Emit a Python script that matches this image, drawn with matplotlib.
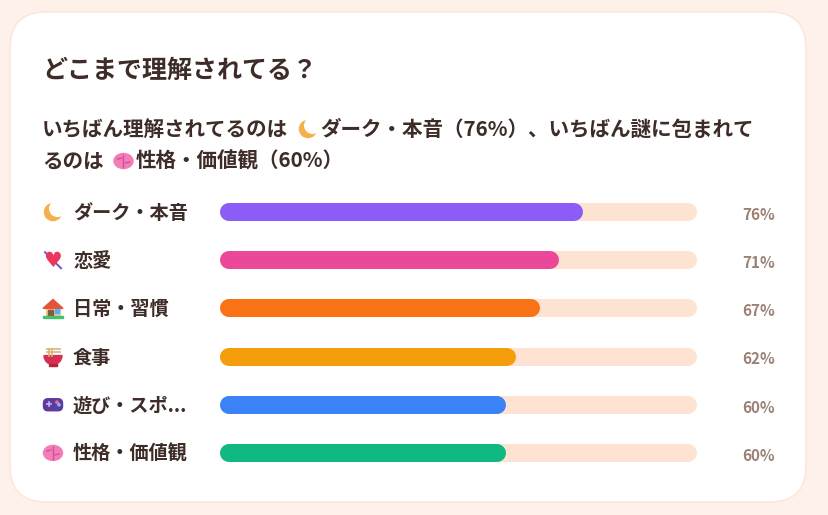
import matplotlib
matplotlib.use("Agg")
import matplotlib.pyplot as plt
from matplotlib import transforms
from matplotlib.patches import FancyBboxPatch, Circle, Polygon, Rectangle, Wedge, Ellipse

plt.rcParams['font.family'] = ['Noto Sans CJK JP', 'DejaVu Sans']

# --------------------------------------------
# DATA
# --------------------------------------------
title = "どこまで理解されてる？"
categories = ["ダーク・本音", "恋愛", "日常・習慣", "食事", "遊び・スポ...", "性格・価値観"]
percents = [76, 71, 67, 62, 60, 60]
bar_colors = ["#8B5CF6", "#EC4899", "#F97316", "#F59E0B", "#3B82F6", "#10B981"]
icons = ["moon", "heart", "house", "bowl", "game", "brain"]

# summary sentence parts
top_i = 0
low_i = 5

TXT = "#3D2C27"
PCT = "#9C8176"
TRACK = "#FEE3D3"
BG = "#FDF1EA"

W, H = 829, 515
fig = plt.figure(figsize=(W / 100, H / 100), dpi=100)
fig.patch.set_facecolor(BG)

# background axes in pixel units (y goes down)
bg = fig.add_axes([0, 0, 1, 1])
bg.set_xlim(0, W)
bg.set_ylim(H, 0)
bg.axis('off')

card = FancyBboxPatch((10, 12), 796, 490, boxstyle="round,pad=0,rounding_size=36",
                      facecolor="white", edgecolor="#FBE7DC", lw=1.2)
bg.add_patch(card)


def draw_icon(kind, cx, cy):
    if kind == "moon":
        bg.add_patch(Circle((cx, cy), 8.5, color="#F4B04C"))
        bg.add_patch(Circle((cx + 4.5, cy - 3.5), 7.8, color="white"))
    elif kind == "heart":
        bg.text(cx, cy + 1, "\u2665", color="#E8385E", fontsize=15, family="DejaVu Sans",
                ha="center", va="center")
        bg.plot([cx - 8, cx + 8], [cy - 8, cy + 8], color="#6B4FC8", lw=1.4)
    elif kind == "house":
        bg.add_patch(Rectangle((cx - 7, cy - 1), 14, 9, color="#F2C89F"))
        bg.add_patch(Polygon([(cx - 10, cy), (cx, cy - 9), (cx + 10, cy)], color="#E5533B"))
        bg.add_patch(Rectangle((cx - 5, cy + 2), 5, 6, color="#8A5A3C"))
        bg.add_patch(Rectangle((cx + 2, cy + 1), 4, 3.5, color="#4FB3F0"))
        bg.add_patch(Rectangle((cx - 10, cy + 8), 20, 2, color="#45C06C"))
    elif kind == "bowl":
        for yy in (cy - 8, cy - 5):
            bg.plot([cx - 6, cx + 7], [yy, yy], color="#D8B377", lw=1.2)
        for xx in (cx - 4, cx - 1):
            bg.plot([xx, xx], [cy - 8, cy - 1], color="#D8B377", lw=1.2)
        bg.add_patch(Wedge((cx, cy - 1), 9, 0, 180, color="#D82F50"))
        bg.add_patch(Rectangle((cx - 4, cy + 7), 8, 2, color="#B82240"))
    elif kind == "game":
        bg.add_patch(FancyBboxPatch((cx - 9.5, cy - 6), 19, 12,
                                    boxstyle="round,pad=0,rounding_size=4.5", color="#5E3A9E"))
        bg.plot([cx - 6, cx - 2], [cy - 1, cy - 1], color="#C9B8F0", lw=1.2)
        bg.plot([cx - 4, cx - 4], [cy - 3, cy + 1], color="#C9B8F0", lw=1.2)
        bg.add_patch(Circle((cx + 4, cy - 2.5), 1.2, color="#F36B8C"))
        bg.add_patch(Circle((cx + 6, cy), 1.2, color="#5BC0F0"))
    elif kind == "brain":
        bg.add_patch(Ellipse((cx, cy), 19, 15, color="#F27DB8"))
        bg.plot([cx, cx], [cy - 6, cy + 6], color="#D64F96", lw=1)
        bg.plot([cx - 6, cx - 2], [cy - 2, cy - 3], color="#D64F96", lw=1)
        bg.plot([cx + 2, cx + 6], [cy + 2, cy + 1], color="#D64F96", lw=1)


# --------------------------------------------
# TITLE AND SUMMARY
# --------------------------------------------
bg.text(42, 71, title, fontsize=18, fontweight="bold", color=TXT, va="center")

renderer = fig.canvas.get_renderer()
lines = [
    ["いちばん理解されてるのは", icons[top_i],
     f"{categories[top_i]}（{percents[top_i]}%）、いちばん謎に包まれて"],
    ["るのは", icons[low_i], f"{categories[low_i]}（{percents[low_i]}%）"],
]
for y, parts in zip([129, 161], lines):
    x = 42
    for part in parts:
        if part in icons:
            draw_icon(part, x + 20, y)
            x += 32
        else:
            t = bg.text(x, y, part, fontsize=14.8, fontweight="bold", color=TXT, va="center")
            x = t.get_window_extent(renderer).x1

# --------------------------------------------
# BARS
# --------------------------------------------
left, right, top, bottom = 220, 697, 188, 477
ax = fig.add_axes([left / W, 1 - bottom / H, (right - left) / W, (bottom - top) / H])
ax.set_xlim(0, 100)
ax.set_ylim(len(categories) - 0.5, -0.5)
ax.axis('off')

bar_px = 18
lw = bar_px * 72 / 100
cap = (bar_px / 2) / (right - left) * 100
trans = transforms.blended_transform_factory(bg.transData, ax.transData)

for i, (name, val, col, ic) in enumerate(zip(categories, percents, bar_colors, icons)):
    ax.plot([cap, 100 - cap], [i, i], color=TRACK, lw=lw, solid_capstyle="round")
    ax.plot([cap, val - cap], [i, i], color=col, lw=lw, solid_capstyle="round")
    ax.text(73, i + 0.03, name, transform=trans, fontsize=13.8, fontweight="bold", color=TXT,
            va="center")
    ax.text(775, i + 0.06, f"{val}%", transform=trans, fontsize=11, fontweight="bold",
            color=PCT, ha="right", va="center")
    cy = H - ax.transData.transform((0, i))[1]
    draw_icon(ic, 53, cy)

fig.savefig("out.png", dpi=100, facecolor=BG)
